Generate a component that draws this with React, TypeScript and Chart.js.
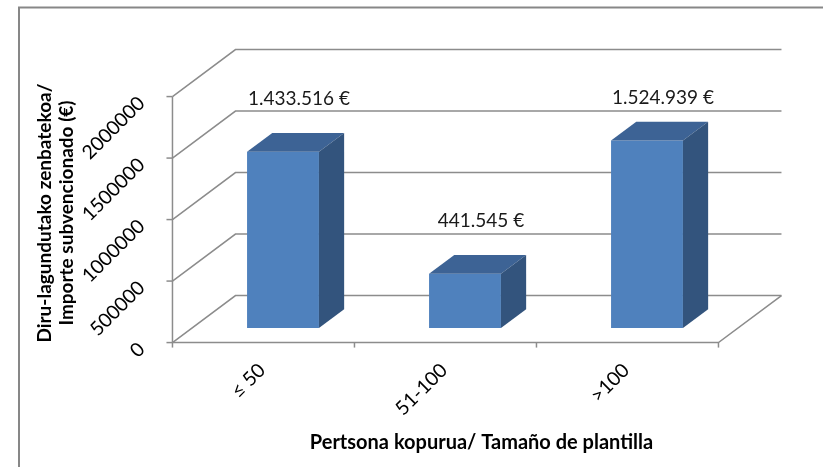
import React, { useEffect, useRef } from 'react';
import { Chart, registerables } from 'chart.js';

Chart.register(...registerables);

// ---- data ----
const categories = ['≤ 50', '51-100', '>100'];
const values = [1433516, 441545, 1524939];
const yTickValues = [0, 500000, 1000000, 1500000, 2000000];
const yTitleLines = ['Diru-lagundutako zenbatekoa/', 'Importe subvencionado (€)'];
const xTitle = 'Pertsona kopurua/ Tamaño de plantilla';

// ---- styling / layout ----
const W = 823;
const H = 467;
const FONT = 'Lato, "Open Sans", sans-serif';
const GRID = '#8c8c8c';
const FRONT_COLOR = '#4f81bd';
const TOP_COLOR = '#3d6395';
const SIDE_COLOR = '#33547d';
const DEPTH_X = 63;
const DEPTH_Y = -47;
const BAR_FRONT = 0.31; // fraction of depth where bar front faces sit
const BAR_DEPTH = 0.4; // fraction of depth occupied by bars

function fmtEuro(v: number): string {
  const s = String(Math.round(v));
  return s.replace(/\B(?=(\d{3})+(?!\d))/g, '.') + ' €';
}

const scene3d = {
  id: 'scene3d',
  beforeDatasetsDraw(chart: any) {
    const ctx = chart.ctx as CanvasRenderingContext2D;
    const xs = chart.scales.x;
    const ys = chart.scales.y;
    const area = chart.chartArea;
    const fdx = -BAR_FRONT * DEPTH_X;
    const fdy = -BAR_FRONT * DEPTH_Y;
    const bdx = (1 - BAR_FRONT) * DEPTH_X;
    const bdy = (1 - BAR_FRONT) * DEPTH_Y;
    const frontL = area.left + fdx;
    const frontR = area.right + fdx;
    const backL = area.left + bdx;
    const backR = area.right + bdx;
    const zeroY = ys.getPixelForValue(0);
    const maxY = ys.getPixelForValue(yTickValues[yTickValues.length - 1]);

    ctx.save();
    ctx.fillStyle = '#ffffff';
    ctx.fillRect(0, 0, W, H);

    // outer frame (top + left visible)
    ctx.strokeStyle = '#878787';
    ctx.lineWidth = 2;
    ctx.beginPath();
    ctx.moveTo(19, H);
    ctx.lineTo(19, 7.5);
    ctx.lineTo(W, 7.5);
    ctx.stroke();

    // side wall + back wall gridlines
    ctx.strokeStyle = GRID;
    ctx.lineWidth = 1.5;
    for (const v of yTickValues) {
      const py = ys.getPixelForValue(v);
      ctx.beginPath();
      ctx.moveTo(frontL, py + fdy);
      ctx.lineTo(backL, py + bdy);
      ctx.lineTo(backR, py + bdy);
      ctx.stroke();
    }
    // floor front + right edge
    ctx.beginPath();
    ctx.moveTo(frontL, zeroY + fdy);
    ctx.lineTo(frontR, zeroY + fdy);
    ctx.lineTo(backR, zeroY + bdy);
    ctx.stroke();
    // vertical axis
    ctx.beginPath();
    ctx.moveTo(frontL, maxY + fdy);
    ctx.lineTo(frontL, zeroY + fdy);
    ctx.stroke();
    // y ticks
    for (const v of yTickValues) {
      const py = ys.getPixelForValue(v) + fdy;
      ctx.beginPath();
      ctx.moveTo(frontL - 6, py);
      ctx.lineTo(frontL, py);
      ctx.stroke();
    }
    // x ticks at category boundaries
    const c0 = xs.getPixelForValue(0);
    const step = categories.length > 1 ? xs.getPixelForValue(1) - c0 : area.right - area.left;
    for (let i = 0; i <= categories.length; i++) {
      const bx = c0 - step / 2 + i * step + fdx;
      ctx.beginPath();
      ctx.moveTo(bx, zeroY + fdy);
      ctx.lineTo(bx, zeroY + fdy + 5);
      ctx.stroke();
    }

    // y tick labels (rotated -45)
    ctx.fillStyle = '#000000';
    ctx.font = `19.5px ${FONT}`;
    ctx.textAlign = 'right';
    ctx.textBaseline = 'middle';
    for (const v of yTickValues) {
      const py = ys.getPixelForValue(v) + fdy;
      ctx.save();
      ctx.translate(frontL - 31, py + 3.5);
      ctx.rotate(-Math.PI / 4);
      ctx.fillText(String(v), 0, 0);
      ctx.restore();
    }
    // x tick labels (rotated -45)
    categories.forEach((c, i) => {
      const cx = xs.getPixelForValue(i) + fdx;
      ctx.save();
      ctx.translate(cx - 1.5, zeroY + fdy + 24.5);
      ctx.rotate(-Math.PI / 4);
      ctx.fillText(c, 0, 0);
      ctx.restore();
    });

    // axis titles
    ctx.font = `bold 20px ${FONT}`;
    ctx.textAlign = 'center';
    ctx.fillText(xTitle, 481.5, 443);
    ctx.font = `bold 19px ${FONT}`;
    const ty = 213;
    const tx = [45, 67];
    yTitleLines.forEach((line, i) => {
      ctx.save();
      ctx.translate(tx[i], ty);
      ctx.rotate(-Math.PI / 2);
      ctx.fillText(line, 0, 0);
      ctx.restore();
    });
    ctx.restore();
  },
  afterDatasetsDraw(chart: any) {
    const ctx = chart.ctx as CanvasRenderingContext2D;
    const area = chart.chartArea;
    const meta = chart.getDatasetMeta(0);
    const ddx = BAR_DEPTH * DEPTH_X;
    const ddy = BAR_DEPTH * DEPTH_Y;
    ctx.save();
    meta.data.forEach((bar: any, i: number) => {
      const p = bar.getProps(['x', 'y', 'base', 'width'], true);
      const left = p.x - p.width / 2;
      const right = p.x + p.width / 2;
      const top = p.y;
      const base = p.base;
      // top face
      ctx.fillStyle = TOP_COLOR;
      ctx.beginPath();
      ctx.moveTo(left, top);
      ctx.lineTo(left + ddx, top + ddy);
      ctx.lineTo(right + ddx, top + ddy);
      ctx.lineTo(right, top);
      ctx.closePath();
      ctx.fill();
      // side face
      ctx.fillStyle = SIDE_COLOR;
      ctx.beginPath();
      ctx.moveTo(right, top);
      ctx.lineTo(right + ddx, top + ddy);
      ctx.lineTo(right + ddx, base + ddy);
      ctx.lineTo(right, base);
      ctx.closePath();
      ctx.fill();
      // data label
      ctx.fillStyle = '#1a1a1a';
      ctx.font = `19px ${FONT}`;
      ctx.textAlign = 'center';
      ctx.textBaseline = 'middle';
      const ly = Math.max(top - 53, area.top + 15.5);
      ctx.fillText(fmtEuro(values[i]), p.x + 16, ly);
    });
    ctx.restore();
  },
};

export default function App() {
  const ref = useRef<HTMLCanvasElement | null>(null);
  useEffect(() => {
    document.body.style.margin = '0';
    const canvas = ref.current;
    if (!canvas) return;
    const chart = new Chart(canvas, {
      type: 'bar',
      data: {
        labels: categories,
        datasets: [
          {
            data: values,
            backgroundColor: FRONT_COLOR,
            borderWidth: 0,
            barPercentage: 0.395,
            categoryPercentage: 1,
          },
        ],
      },
      options: {
        responsive: false,
        animation: false,
        devicePixelRatio: 1,
        layout: { padding: { left: 192, right: 85, top: 82, bottom: 139 } },
        plugins: { legend: { display: false }, tooltip: { enabled: false }, title: { display: false } },
        scales: {
          x: { display: false, offset: true },
          y: { display: false, min: 0, max: 2000000 },
        },
      },
      plugins: [scene3d],
    });
    return () => chart.destroy();
  }, []);
  return (
    <div style={{ width: W, height: H, background: '#fff' }}>
      <canvas ref={ref} width={W} height={H} style={{ display: 'block', width: W, height: H }} />
    </div>
  );
}
